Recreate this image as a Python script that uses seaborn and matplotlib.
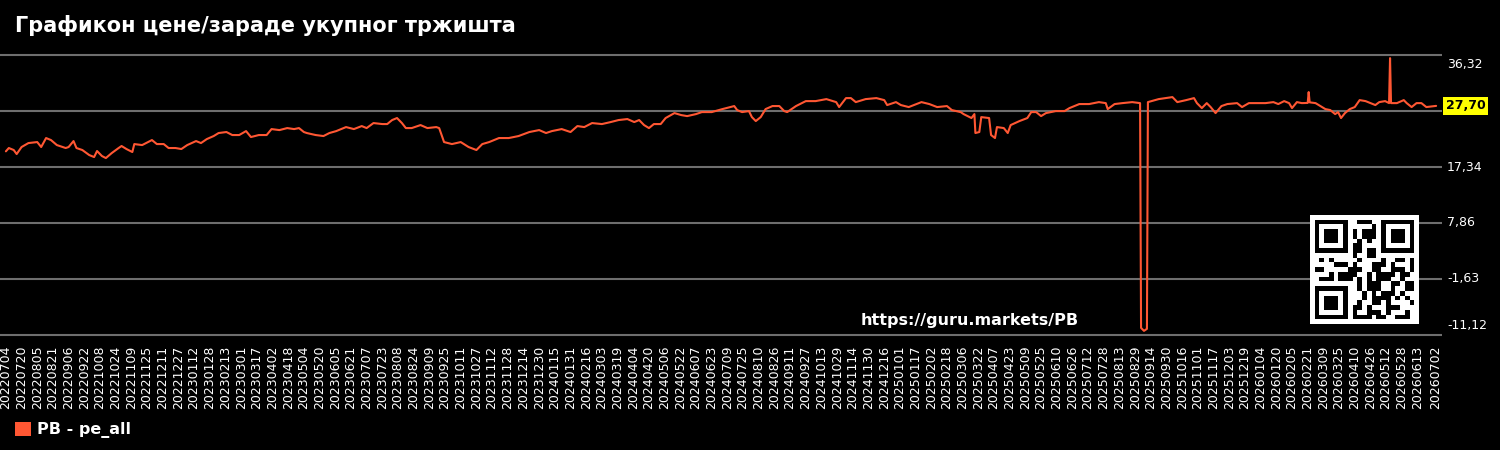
import numpy as np
import pandas as pd
import matplotlib
matplotlib.use("Agg")
import matplotlib.pyplot as plt
import matplotlib.transforms as mtransforms
from matplotlib.patches import Patch
import seaborn as sns

title = "Графикон цене/зараде укупног тржишта"
series_name = "PB - pe_all"
url = "https://guru.markets/PB"
line_color = "#ff5733"
last_value = 27.70
y_ticks = [-11.12, -1.63, 7.86, 17.34, 26.84, 36.32]

# values (date, P/E)
dates_2022 = ["2022-07-04", "2022-07-07", "2022-07-12", "2022-07-15", "2022-07-20", "2022-07-27",
              "2022-08-05", "2022-08-09", "2022-08-14", "2022-08-19", "2022-08-25", "2022-09-03",
              "2022-09-06", "2022-09-11", "2022-09-14", "2022-09-20", "2022-09-27", "2022-10-02",
              "2022-10-05", "2022-10-10", "2022-10-14", "2022-10-20", "2022-10-27", "2022-10-30",
              "2022-11-04", "2022-11-10", "2022-11-12", "2022-11-20", "2022-11-30", "2022-12-05",
              "2022-12-12", "2022-12-17", "2022-12-24", "2022-12-30"]
pe_2022 = [20.00, 20.56, 20.22, 19.54, 20.73, 21.40,
           21.57, 20.73, 22.25, 21.91, 21.06, 20.56,
           20.73, 21.74, 20.56, 20.22, 19.37, 19.03,
           20.05, 19.20, 18.86, 19.71, 20.56, 20.90,
           20.39, 19.88, 21.23, 21.06, 21.91, 21.23,
           21.23, 20.56, 20.56, 20.39]

dates_2023 = ["2023-01-05", "2023-01-14", "2023-01-19", "2023-01-25", "2023-02-01", "2023-02-06",
              "2023-02-14", "2023-02-20", "2023-02-27", "2023-03-06", "2023-03-11", "2023-03-19",
              "2023-03-27", "2023-04-01", "2023-04-09", "2023-04-17", "2023-04-24", "2023-04-29",
              "2023-05-04", "2023-05-07", "2023-05-16", "2023-05-24", "2023-05-30", "2023-06-06",
              "2023-06-16", "2023-06-24", "2023-07-02", "2023-07-07", "2023-07-14", "2023-07-23",
              "2023-07-28", "2023-08-02", "2023-08-07", "2023-08-12", "2023-08-16", "2023-08-22",
              "2023-08-31", "2023-09-07", "2023-09-16", "2023-09-19", "2023-09-24", "2023-10-02",
              "2023-10-11", "2023-10-19", "2023-10-27", "2023-11-02", "2023-11-09", "2023-11-19",
              "2023-11-29", "2023-12-09", "2023-12-20", "2023-12-30"]
pe_2023 = [21.06, 21.74, 21.40, 22.08, 22.59, 23.10,
           23.27, 22.76, 22.76, 23.43, 22.42, 22.76,
           22.76, 23.77, 23.60, 23.94, 23.77, 23.94,
           23.27, 23.10, 22.76, 22.59, 23.10, 23.43,
           24.11, 23.77, 24.28, 23.94, 24.79, 24.62,
           24.62, 25.30, 25.64, 24.79, 23.94, 23.94,
           24.45, 23.94, 24.11, 23.94, 21.57, 21.23,
           21.57, 20.73, 20.22, 21.23, 21.57, 22.25,
           22.25, 22.59, 23.27, 23.60]

dates_2024 = ["2024-01-06", "2024-01-12", "2024-01-22", "2024-01-31", "2024-02-07", "2024-02-14",
              "2024-02-22", "2024-03-03", "2024-03-12", "2024-03-20", "2024-03-29", "2024-04-05",
              "2024-04-10", "2024-04-15", "2024-04-20", "2024-04-25", "2024-05-02", "2024-05-07",
              "2024-05-16", "2024-05-23", "2024-05-29", "2024-06-07", "2024-06-13", "2024-06-23",
              "2024-07-04", "2024-07-16", "2024-07-19", "2024-07-24", "2024-07-31", "2024-08-03",
              "2024-08-07", "2024-08-12", "2024-08-17", "2024-08-24", "2024-08-31", "2024-09-05",
              "2024-09-08", "2024-09-17", "2024-09-27", "2024-10-07", "2024-10-18", "2024-10-28",
              "2024-10-31", "2024-11-07", "2024-11-12", "2024-11-17", "2024-11-27", "2024-12-08",
              "2024-12-16", "2024-12-19", "2024-12-28"]
pe_2024 = [23.10, 23.43, 23.77, 23.27, 24.28, 24.11,
           24.79, 24.62, 24.96, 25.30, 25.47, 24.96,
           25.30, 24.45, 23.94, 24.62, 24.62, 25.64,
           26.48, 26.14, 25.97, 26.31, 26.65, 26.65,
           27.16, 27.67, 26.99, 26.65, 26.82, 25.80,
           25.13, 25.80, 27.16, 27.67, 27.67, 26.82,
           26.65, 27.67, 28.51, 28.51, 28.85, 28.34,
           27.50, 29.02, 29.02, 28.34, 28.85, 29.02,
           28.68, 27.84, 28.34]

dates_2025 = ["2025-01-02", "2025-01-10", "2025-01-23", "2025-01-31", "2025-02-08", "2025-02-18",
              "2025-02-23", "2025-03-04", "2025-03-07", "2025-03-15", "2025-03-18", "2025-03-19",
              "2025-03-23", "2025-03-25", "2025-04-02", "2025-04-04", "2025-04-08", "2025-04-10",
              "2025-04-17", "2025-04-21", "2025-04-24", "2025-05-03", "2025-05-11", "2025-05-15",
              "2025-05-20", "2025-05-25", "2025-05-30", "2025-06-09", "2025-06-18", "2025-06-23",
              "2025-07-03", "2025-07-13", "2025-07-23", "2025-07-30", "2025-08-01", "2025-08-08",
              "2025-08-16", "2025-08-26", "2025-09-03", "2025-09-04", "2025-09-07", "2025-09-10",
              "2025-09-11", "2025-09-22", "2025-10-06", "2025-10-11", "2025-10-20", "2025-10-28",
              "2025-10-31", "2025-11-05", "2025-11-10", "2025-11-14", "2025-11-19", "2025-11-25",
              "2025-12-01", "2025-12-11", "2025-12-16", "2025-12-23"]
pe_2025 = [27.84, 27.50, 28.34, 28.01, 27.50, 27.67,
           26.99, 26.65, 26.31, 25.64, 26.31, 23.10,
           23.27, 25.80, 25.64, 22.76, 22.25, 24.11,
           23.94, 23.10, 24.45, 25.13, 25.64, 26.65,
           26.65, 25.97, 26.48, 26.82, 26.82, 27.33,
           28.01, 28.01, 28.34, 28.17, 27.16, 28.01,
           28.17, 28.34, 28.17, -9.92, -10.42, -10.08,
           28.34, 28.85, 29.19, 28.34, 28.68, 29.02,
           28.17, 27.33, 28.17, 27.50, 26.48, 27.67,
           28.01, 28.17, 27.50, 28.17]

dates_2026 = ["2026-01-02", "2026-01-09", "2026-01-17", "2026-01-22", "2026-01-28", "2026-02-02",
              "2026-02-05", "2026-02-10", "2026-02-15", "2026-02-21", "2026-02-22", "2026-02-23",
              "2026-03-01", "2026-03-06", "2026-03-11", "2026-03-16", "2026-03-21", "2026-03-24",
              "2026-03-27", "2026-03-31", "2026-04-05", "2026-04-10", "2026-04-15", "2026-04-21",
              "2026-04-26", "2026-05-01", "2026-05-05", "2026-05-11", "2026-05-15", "2026-05-16",
              "2026-05-17", "2026-05-23", "2026-05-30", "2026-06-02", "2026-06-07", "2026-06-12",
              "2026-06-17", "2026-06-22", "2026-07-02"]
pe_2026 = [28.17, 28.17, 28.34, 28.01, 28.51, 28.17,
           27.33, 28.34, 28.17, 28.20, 30.04, 28.30,
           28.17, 27.67, 27.16, 26.99, 26.31, 26.65,
           25.64, 26.48, 27.16, 27.50, 28.68, 28.51,
           28.17, 27.84, 28.34, 28.51, 28.17, 35.79,
           28.17, 28.17, 28.68, 28.17, 27.50, 28.17,
           28.17, 27.50, 27.70]

tick_dates = list(pd.date_range("2022-07-04", "2026-06-13", freq="16D")) + [pd.Timestamp("2026-07-02")]

df = pd.DataFrame({
    "date": pd.to_datetime(dates_2022 + dates_2023 + dates_2024 + dates_2025 + dates_2026),
    "pe": pe_2022 + pe_2023 + pe_2024 + pe_2025 + pe_2026,
})

sns.set_theme(style="white", rc={"axes.facecolor": "black", "figure.facecolor": "black",
                                 "savefig.facecolor": "black"})
plt.rcParams["font.family"] = ["DejaVu Sans"]

fig = plt.figure(figsize=(15, 4.5), dpi=100)
ax = fig.add_axes([0, 1 - 340 / 450, 1442 / 1500, 290 / 450])

sns.lineplot(data=df, x="date", y="pe", color=line_color, linewidth=1.5, ax=ax, legend=False)

start, end = pd.Timestamp("2022-07-04"), pd.Timestamp("2026-07-02")
ax.set_xlim(start - pd.Timedelta(days=6), end + pd.Timedelta(days=6))
ax.set_ylim(-11.97, 37.17)

for s in ax.spines.values():
    s.set_visible(False)

ax.set_yticks(y_ticks)
ax.set_yticklabels([])
ax.yaxis.grid(True, color="#6e6e6e", linewidth=1.5)
ax.xaxis.grid(False)
ax.tick_params(axis="y", length=0)
ax.set_xlabel("")
ax.set_ylabel("")

ax.set_xticks(tick_dates)
ax.set_xticklabels([d.strftime("%Y%m%d") for d in tick_dates], rotation=90,
                   fontsize=9, color="white")
ax.tick_params(axis="x", length=0, pad=4)

# right-hand value labels, outer ones nudged inside the plot band
trans = mtransforms.blended_transform_factory(ax.transAxes, ax.transData)
for i, v in enumerate(y_ticks):
    if abs(v - 26.84) < 0.01:
        continue
    shift = 0
    if i == len(y_ticks) - 1:
        shift = -9
    elif i == 0:
        shift = 9
    t = mtransforms.offset_copy(trans, fig=fig, y=shift, units="dots")
    ax.text(1.0035, v, f"{v:.2f}".replace(".", ","), transform=t, color="white",
            fontsize=9, va="center", ha="left")

ax.text(1.0025, last_value, f"{last_value:.2f}".replace(".", ","), transform=trans,
        color="black", fontsize=9, fontweight="bold", va="center", ha="left",
        bbox=dict(facecolor="yellow", edgecolor="none", pad=2))

fig.text(0.01, 1 - 25 / 450, title, color="white", fontsize=15, fontweight="bold",
         va="center", ha="left")

fig.text(970 / 1500, 1 - 320 / 450, url, color="white", fontsize=11.5, fontweight="bold",
         va="center", ha="center")

# QR-style badge
n = 21
qr = np.zeros((n, n), dtype=int)
bits = np.unpackbits(np.frombuffer((url * 4).encode(), dtype=np.uint8))
qr[:, :] = bits[: n * n].reshape(n, n)
for r0, c0 in [(0, 0), (0, n - 7), (n - 7, 0)]:
    qr[max(r0 - 1, 0):r0 + 8, max(c0 - 1, 0):c0 + 8] = 0
    qr[r0:r0 + 7, c0:c0 + 7] = 1
    qr[r0 + 1:r0 + 6, c0 + 1:c0 + 6] = 0
    qr[r0 + 2:r0 + 5, c0 + 2:c0 + 5] = 1
qr = np.pad(qr, 1)
qax = fig.add_axes([1310 / 1500, 1 - 324 / 450, 109 / 1500, 109 / 450])
qax.imshow(1 - qr, cmap="gray", vmin=0, vmax=1, interpolation="nearest", aspect="auto")
qax.axis("off")

fig.legend(handles=[Patch(facecolor=line_color, edgecolor="none")], labels=[series_name],
           loc="center left", bbox_to_anchor=(15 / 1500, 1 - 430 / 450), frameon=False,
           borderpad=0, borderaxespad=0, handlelength=1.0, handleheight=1.0,
           handletextpad=0.4, labelcolor="white", prop={"weight": "bold", "size": 11.5})

fig.savefig("out.png", dpi=100, facecolor="black")
